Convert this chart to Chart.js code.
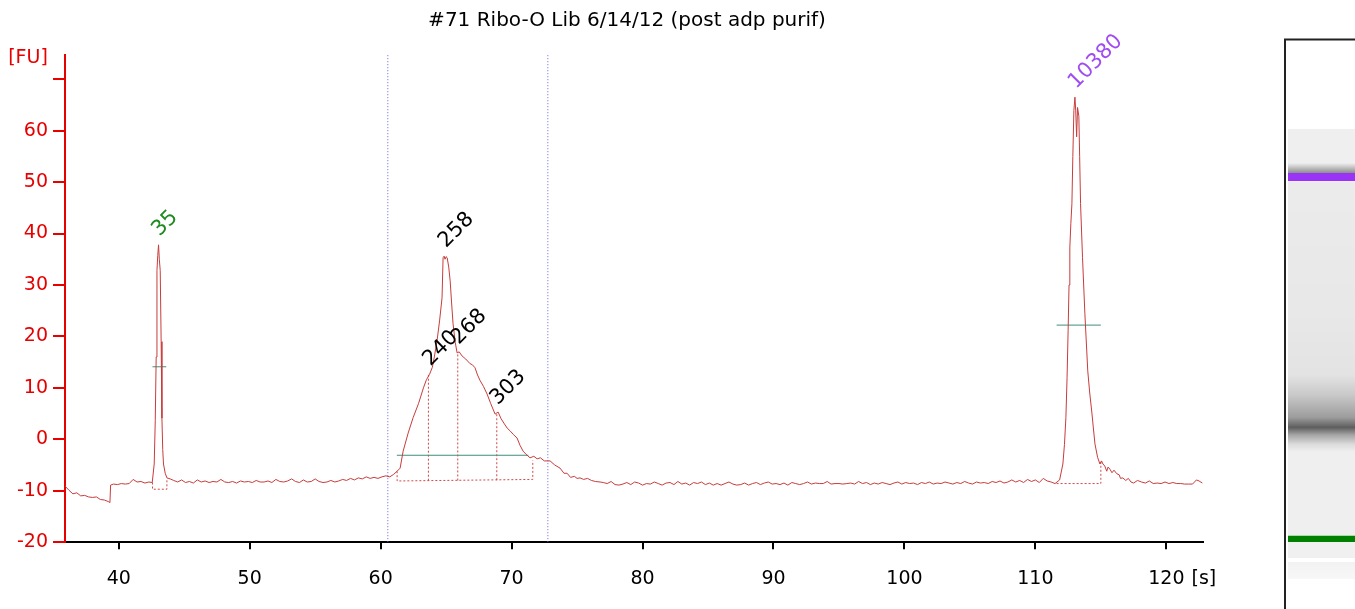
<!DOCTYPE html>
<html>
<head>
<meta charset="utf-8">
<script src="https://cdn.jsdelivr.net/npm/chart.js@4.4.1/dist/chart.umd.min.js"></script>
<style>
html,body{margin:0;padding:0;background:#fff;overflow:hidden}
#wrap{position:relative;width:1355px;height:609px}
</style>
</head>
<body>
<div id="wrap"><canvas id="c" width="1355" height="609"></canvas></div>
<script>
// ---------- text ----------
const chartTitle = '#71 Ribo-O Lib 6/14/12 (post adp purif)';
const yUnit = '[FU]';
const xUnit = '[s]';

// ---------- axes ----------
const xRange = [35.9, 122.8];
const yRange = [-20, 74.7];
const xTicks = [40, 50, 60, 70, 80, 90, 100, 110, 120];
const yTicks = [-20, -10, 0, 10, 20, 30, 40, 50, 60, 70];
const yTickLabels = ['-20', '-10', '0', '10', '20', '30', '40', '50', '60', ''];

// ---------- electropherogram trace (time [s], fluorescence [FU]) ----------
const traceTime = [
  // start / lower marker region
  35.9, 36.2, 36.5, 36.8, 37.1, 37.4, 37.7, 38.0, 38.3, 38.6, 38.9, 39.2, 39.33, 39.38, 39.6, 39.9, 40.2, 40.5, 40.8, 41.1, 41.4, 41.7, 42.0, 42.3, 42.56,
  // lower marker peak
  42.71, 42.79, 42.86, 42.92, 42.98, 43.04, 43.1, 43.17, 43.24, 43.3, 43.36, 43.42, 43.55, 43.68, 43.93,
  // baseline
  44.2, 44.5, 44.8, 45.1, 45.4, 45.7, 46.0, 46.3, 46.6, 46.9,
  47.2, 47.5, 47.8, 48.1, 48.4, 48.7, 49.0, 49.3, 49.6, 49.9,
  50.2, 50.5, 50.8, 51.1, 51.4, 51.7, 52.0, 52.3, 52.6, 52.9,
  53.2, 53.5, 53.8, 54.1, 54.4, 54.7, 55.0, 55.3, 55.6, 55.9,
  56.2, 56.5, 56.8, 57.1, 57.4, 57.7, 58.0, 58.3, 58.6, 58.9,
  59.2, 59.5, 59.8, 60.1, 60.4, 60.7, 61.0,
  // library smear
  61.26, 61.49, 61.72, 62.1, 62.48, 62.9, 63.27, 63.5, 63.73, 63.95,
  64.1, 64.31, 64.5, 64.69, 64.77, 64.85, 64.92, 65.0, 65.08, 65.2,
  65.31, 65.42, 65.53, 65.7, 65.84, 66.0, 66.22, 66.5, 66.83, 67.0,
  67.21, 67.4, 67.6, 67.85, 68.13, 68.4, 68.74, 68.97, 69.2, 69.45,
  69.66, 69.9, 70.15, 70.42, 70.65, 70.88, 71.1, 71.41, 71.7, 71.95,
  72.2, 72.5, 72.94, 73.3, 73.7, 74.0, 74.24, 74.5, 74.8, 75.0,
  75.23, 75.5, 75.8, 76.1, 76.4, 76.76,
  // baseline
  77.0, 77.3, 77.6, 77.9, 78.2, 78.5, 78.8, 79.1, 79.4, 79.7,
  80.0, 80.3, 80.6, 80.9, 81.2, 81.5, 81.8, 82.1, 82.4, 82.7,
  83.0, 83.3, 83.6, 83.9, 84.2, 84.5, 84.8, 85.1, 85.4, 85.7,
  86.0, 86.3, 86.6, 86.9, 87.2, 87.5, 87.8, 88.1, 88.4, 88.7,
  89.0, 89.3, 89.6, 89.9, 90.2, 90.5, 90.8, 91.1, 91.4, 91.7,
  92.0, 92.3, 92.6, 92.9, 93.2, 93.5, 93.8, 94.1, 94.4, 94.7,
  95.0, 95.3, 95.6, 95.9, 96.2, 96.5, 96.8, 97.1, 97.4, 97.7,
  98.0, 98.3, 98.6, 98.9, 99.2, 99.5, 99.8, 100.1, 100.4, 100.7,
  101.0, 101.3, 101.6, 101.9, 102.2, 102.5, 102.8, 103.1, 103.4, 103.7,
  104.0, 104.3, 104.6, 104.9, 105.2, 105.5, 105.8, 106.1, 106.4, 106.7,
  107.0, 107.3, 107.6, 107.9, 108.2, 108.5, 108.8, 109.1, 109.4, 109.7,
  110.0, 110.3, 110.6, 110.9, 111.2, 111.5,
  // upper marker peak and tail
  111.85, 112.1, 112.22, 112.33, 112.42, 112.5, 112.57, 112.63, 112.71, 112.79,
  112.86, 112.94, 113.02, 113.08, 113.15, 113.22, 113.32, 113.38, 113.45, 113.6,
  113.78, 114.0, 114.15, 114.3, 114.42, 114.55, 114.75, 114.93, 115.05, 115.16,
  115.3, 115.45, 115.55, 115.69, 115.85, 116.0, 116.22, 116.4, 116.5, 116.68,
  116.9, 117.1, 117.3, 117.5, 117.8, 118.1, 118.4, 118.7, 119.0, 119.3,
  119.6, 119.9, 120.2, 120.5, 120.8, 121.1, 121.4, 121.7, 122.0, 122.3,
  122.5, 122.75
];
const traceFU = [
  -9.1, -9.9, -10.6, -10.4, -11.0, -10.9, -11.2, -11.3, -11.2, -11.7, -11.8, -12.1, -12.3, -8.9, -8.7, -8.8, -8.6, -8.7, -8.6, -7.8, -8.3, -8.2, -8.5, -8.3, -8.4,
  -4.8, 3.6, 16.0, 32.8, 35.7, 37.8, 35.0, 32.8, 19.0, 4.1, -2.0, -4.8, -6.6, -7.5, -7.7,
  -8.0, -8.3, -7.9, -8.4, -8.2, -8.5, -7.9, -8.3, -8.1, -8.4,
  -8.2, -8.3, -7.8, -8.3, -8.4, -8.2, -8.5, -8.1, -8.3, -8.2,
  -8.4, -8.0, -8.3, -8.3, -8.1, -8.4, -7.8, -8.2, -8.3, -8.1,
  -7.7, -8.2, -8.4, -7.9, -8.3, -8.2, -7.7, -8.2, -8.4, -8.3,
  -8.0, -8.3, -8.1, -7.8, -8.0, -7.6, -7.9, -7.5, -7.7, -7.3,
  -7.6, -7.4, -7.6, -7.3, -7.1, -7.3, -6.8,
  -6.2, -5.6, -2.3, 1.2, 4.2, 7.0, 10.0, 11.6, 12.6, 14.0,
  16.0, 19.2, 23.0, 27.5, 35.3, 35.6, 35.0, 35.5, 35.3, 33.5,
  30.8, 26.5, 22.5, 18.8, 16.8, 17.0, 16.2, 15.6, 14.7, 14.5,
  13.9, 12.5, 11.4, 10.3, 8.8, 7.0, 4.9, 5.3, 4.0, 3.0,
  2.2, 1.6, 0.9, 0.25, -1.2, -2.3, -2.9, -3.6, -3.3, -3.8,
  -3.6, -4.2, -4.2, -5.0, -5.6, -6.6, -6.6, -7.4, -7.2, -7.6,
  -7.5, -7.8, -7.6, -8.0, -8.2, -8.3,
  -8.4, -8.6, -8.2, -8.8, -8.9, -8.7, -8.4, -8.8, -8.3, -8.5,
  -8.9, -8.6, -8.7, -8.3, -8.6, -8.9, -8.5, -8.4, -8.8, -8.2,
  -8.7, -8.5, -8.9, -8.4, -8.6, -8.3, -8.8, -8.5, -8.9, -8.6,
  -8.9, -8.6, -8.3, -8.7, -8.9, -8.8, -8.5, -8.9, -8.6, -8.4,
  -8.8, -8.5, -8.3, -8.7, -8.6, -8.8, -8.5, -8.9, -8.4, -8.6,
  -8.8, -8.6, -8.3, -8.7, -8.5, -8.6, -8.6, -8.2, -8.7, -8.6,
  -8.6, -8.7, -8.6, -8.5, -8.7, -8.2, -8.6, -8.4, -8.8, -8.5,
  -8.7, -8.4, -8.6, -8.8, -8.5, -8.3, -8.7, -8.4, -8.6, -8.5,
  -8.8, -8.4, -8.6, -8.3, -8.7, -8.5, -8.6, -8.3, -8.5, -8.7,
  -8.4, -8.6, -8.2, -8.5, -8.7, -8.3, -8.5, -8.4, -8.6, -8.2,
  -8.4, -8.1, -8.5, -8.3, -7.9, -8.3, -8.0, -8.4, -7.8, -8.2,
  -7.9, -8.4, -7.6, -8.1, -8.3, -8.6,
  -7.9, -4.8, -1.0, 4.2, 12.0, 21.1, 30.0, 37.2, 42.0, 45.8,
  55.0, 63.9, 66.5, 64.0, 58.8, 64.5, 62.8, 55.0, 45.8, 35.3,
  24.4, 13.3, 9.0, 5.5, 2.4, -0.9, -3.5, -4.8, -4.2, -4.8,
  -5.2, -6.2, -5.4, -5.8, -6.5, -6.0, -6.7, -6.9, -7.6, -7.5,
  -8.0, -7.6, -8.3, -8.5, -8.0, -8.3, -8.5, -8.1, -8.6, -8.5,
  -8.6, -8.3, -8.6, -8.4, -8.6, -8.6, -8.7, -8.7, -8.7, -7.9,
  -8.1, -8.5
];

// ---------- region and peak annotations ----------
const regionBounds = [60.55, 72.77];                 // smear region limits [s]
const halfWidthTime = [[42.58, 43.63], [61.24, 71.28], [111.62, 115.0]];
const halfWidthFU = [14.1, -3.1, 22.2];
const baselineTime = [
  [42.58, 42.58, 43.68, 43.68],
  [61.26, 61.26, 71.62, 71.62],
  [63.65, 63.65],
  [65.89, 65.89],
  [68.87, 68.87],
  [111.62, 115.0, 115.0]
];
const baselineFU = [
  [-8.4, -9.7, -9.7, -7.6],
  [-6.2, -8.1, -7.8, -4.1],
  [-8.05, 12.7],
  [-8.0, 16.8],
  [-7.95, 5.0],
  [-8.6, -8.6, -4.2]
];
const peakLabels = ['35', '240', '258', '268', '303', '10380'];
const peakTime = [43.04, 63.73, 64.92, 65.89, 68.87, 113.02];
const peakFU = [37.8, 12.6, 35.6, 16.8, 5.0, 66.5];
const peakKind = ['lower', 'sample', 'sample', 'sample', 'sample', 'upper'];

// ---------- styles ----------
const FONT = 'DejaVu Sans';
const AXIS_RED = '#e60000';
const TRACE = '#c83c3c';
const kindColor = { lower: '#1f8a1f', sample: '#000000', upper: '#a04cf2' };

const pts = (xs, ys) => xs.map((x, i) => ({ x: x, y: ys[i] }));

const datasets = [];
datasets.push({ label: 'trace', data: pts(traceTime, traceFU), borderColor: TRACE, borderWidth: 1 });
halfWidthTime.forEach((t, i) => datasets.push({
  label: 'halfwidth' + i, data: pts(t, [halfWidthFU[i], halfWidthFU[i]]), borderColor: '#3f8f7c', borderWidth: 1
}));
baselineTime.forEach((t, i) => datasets.push({
  label: 'base' + i, data: pts(t, baselineFU[i]), borderColor: '#d04848', borderWidth: 1, borderDash: [2, 2]
}));
regionBounds.forEach((t, i) => datasets.push({
  label: 'region' + i, data: pts([t, t], yRange), borderColor: '#6464d6', borderWidth: 1, borderDash: [1, 2]
}));

const textPlugin = {
  id: 'texts',
  afterDraw(chart) {
    const c = chart.ctx;
    const xs = chart.scales.x, ys = chart.scales.y;
    c.save();
    // title
    c.fillStyle = '#000';
    c.font = '20px "' + FONT + '"';
    c.textAlign = 'center';
    c.textBaseline = 'middle';
    c.fillText(chartTitle, 627, 21);
    // y unit
    c.fillStyle = AXIS_RED;
    c.font = '19px "' + FONT + '"';
    c.fillText(yUnit, 28, 58);
    // x unit next to last tick label
    c.fillStyle = '#000';
    c.textAlign = 'left';
    const lastX = xs.getPixelForValue(xTicks[xTicks.length - 1]);
    const w = c.measureText(String(xTicks[xTicks.length - 1])).width;
    c.fillText(xUnit, lastX + w / 2 + 7, xs.top + 7 + 18 + 11.4);
    // peak labels
    c.font = '21px "' + FONT + '"';
    peakLabels.forEach((lab, i) => {
      const px = xs.getPixelForValue(peakTime[i]);
      const py = ys.getPixelForValue(peakFU[i]);
      c.save();
      c.translate(px + 1, py - 8);
      c.rotate(-Math.PI / 4);
      c.fillStyle = kindColor[peakKind[i]];
      c.textAlign = 'left';
      c.textBaseline = 'alphabetic';
      c.fillText(lab, 0, 0);
      c.restore();
    });
    c.restore();
  }
};

const gelPlugin = {
  id: 'gel',
  afterDraw(chart) {
    const c = chart.ctx;
    c.save();
    const L = 1288, W = 67;
    // lane background
    c.fillStyle = '#efefef';
    c.fillRect(L, 129, W, 420);
    // faint banding above sample band
    let g = c.createLinearGradient(0, 182, 0, 452);
    g.addColorStop(0, 'rgba(0,0,0,0.015)');
    g.addColorStop(0.5, 'rgba(0,0,0,0.03)');
    g.addColorStop(0.72, 'rgba(0,0,0,0.05)');
    g.addColorStop(1, 'rgba(0,0,0,0.0)');
    c.fillStyle = g;
    c.fillRect(L, 182, W, 270);
    // upper marker shadow and band
    g = c.createLinearGradient(0, 163, 0, 174);
    g.addColorStop(0, 'rgba(0,0,0,0)');
    g.addColorStop(1, 'rgba(0,0,0,0.45)');
    c.fillStyle = g;
    c.fillRect(L, 163, W, 11);
    c.fillStyle = '#9933f5';
    c.fillRect(L, 173, W, 8);
    // sample smear band
    g = c.createLinearGradient(0, 375, 0, 452);
    g.addColorStop(0, 'rgba(0,0,0,0)');
    g.addColorStop(0.25, 'rgba(0,0,0,0.12)');
    g.addColorStop(0.55, 'rgba(0,0,0,0.33)');
    g.addColorStop(0.68, 'rgba(0,0,0,0.6)');
    g.addColorStop(0.78, 'rgba(0,0,0,0.3)');
    g.addColorStop(0.9, 'rgba(0,0,0,0.08)');
    g.addColorStop(1, 'rgba(0,0,0,0)');
    c.fillStyle = g;
    c.fillRect(L, 375, W, 77);
    // lower marker
    c.fillStyle = '#a8dca8';
    c.fillRect(L, 535, W, 1);
    c.fillStyle = '#008000';
    c.fillRect(L, 536, W, 6);
    // below lower marker
    c.fillStyle = '#fff';
    c.fillRect(L, 549, W, 60);
    c.fillStyle = '#f0f0f0';
    c.fillRect(L, 542, W, 16);
    g = c.createLinearGradient(0, 562, 0, 580);
    g.addColorStop(0, '#f2f2f2');
    g.addColorStop(1, '#f8f8f8');
    c.fillStyle = g;
    c.fillRect(L, 562, W, 17);
    // frame
    c.strokeStyle = '#222';
    c.lineWidth = 2;
    c.beginPath();
    c.moveTo(1285, 609);
    c.lineTo(1285, 39.5);
    c.lineTo(1355, 39.5);
    c.stroke();
    c.restore();
  }
};

new Chart(document.getElementById('c'), {
  type: 'line',
  data: { datasets: datasets },
  options: {
    responsive: false,
    animation: false,
    events: [],
    layout: { padding: { left: 12, right: 152, top: 55, bottom: 1 } },
    elements: { point: { radius: 0 }, line: { tension: 0 } },
    plugins: { legend: { display: false }, tooltip: { enabled: false }, title: { display: false } },
    scales: {
      x: {
        type: 'linear', min: xRange[0], max: xRange[1],
        afterBuildTicks: s => { s.ticks = xTicks.map(v => ({ value: v })); },
        ticks: { color: '#000', font: { family: FONT, size: 19 }, padding: 18, maxRotation: 0, autoSkip: false },
        grid: { display: true, drawOnChartArea: false, drawTicks: true, tickLength: 7, color: '#000', lineWidth: 2 },
        border: { display: true, color: '#000', width: 2 }
      },
      y: {
        type: 'linear', min: yRange[0], max: yRange[1],
        afterBuildTicks: s => { s.ticks = yTicks.map(v => ({ value: v })); },
        ticks: {
          color: AXIS_RED, font: { family: FONT, size: 19 }, padding: 5, autoSkip: false,
          callback: (v) => { const i = yTicks.indexOf(v); return i >= 0 ? yTickLabels[i] : ''; }
        },
        grid: { display: true, drawOnChartArea: false, drawTicks: true, tickLength: 12, color: AXIS_RED, lineWidth: 2 },
        border: { display: true, color: AXIS_RED, width: 2 }
      }
    }
  },
  plugins: [gelPlugin, textPlugin]
});
</script>
</body>
</html>
